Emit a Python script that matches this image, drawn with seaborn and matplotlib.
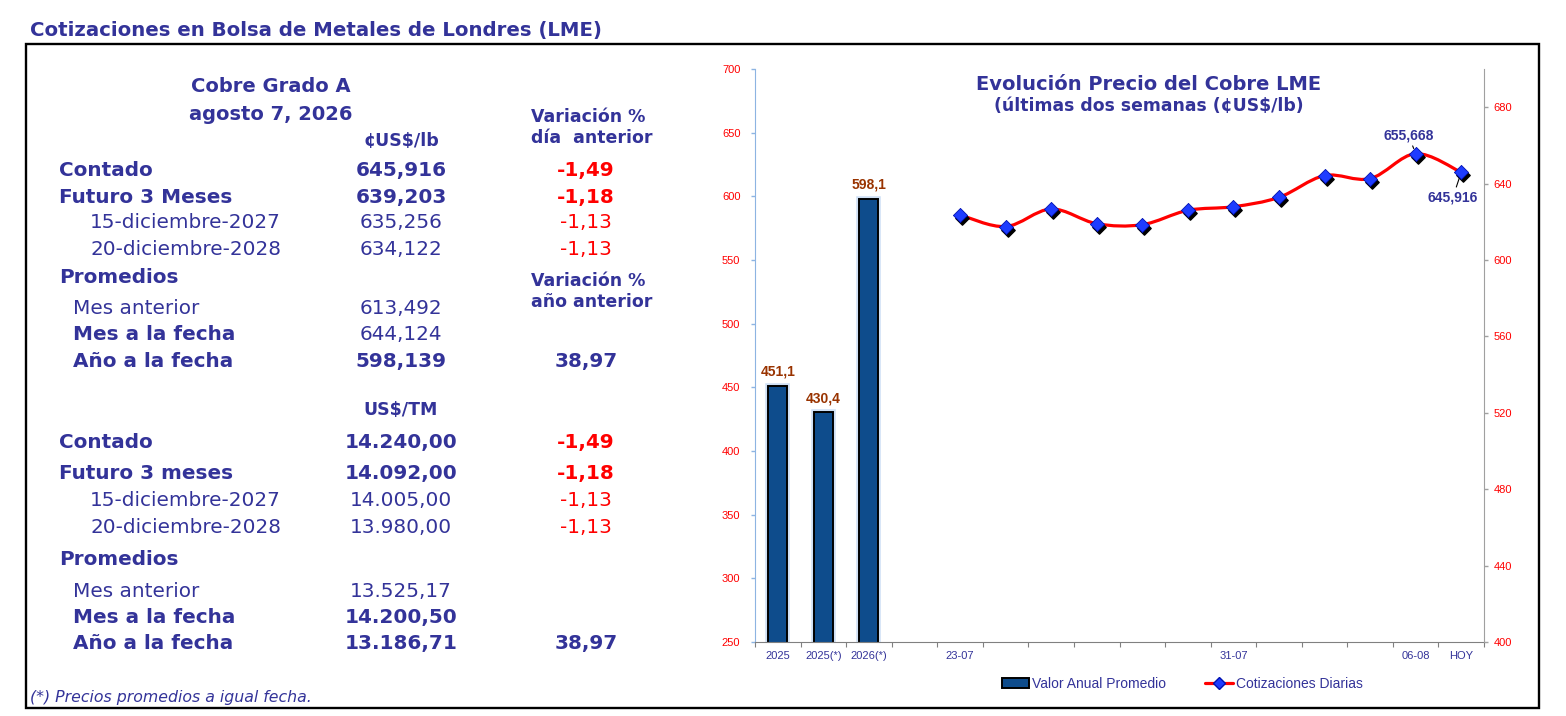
import numpy as np
import pandas as pd
import matplotlib.pyplot as plt
import matplotlib.transforms as mtransforms
import matplotlib.patheffects as pe
from matplotlib.patches import Rectangle, Patch, PathPatch
from matplotlib.path import Path
from matplotlib.lines import Line2D
import seaborn as sns

sns.set_style("white")
plt.rcParams['font.family'] = ['DejaVu Sans']

# ---- chart data ----
years = ["2025", "2025(*)", "2026(*)"]
annual_avg = [451.1, 430.4, 598.1]
days = ["23-07", "24-07", "27-07", "28-07", "29-07", "30-07",
        "31-07", "03-08", "04-08", "05-08", "06-08", "HOY"]
daily_price = [623.6, 617.5, 626.7, 619.0, 618.5, 626.0,
               627.9, 632.8, 644.2, 642.6, 655.668, 645.916]
shown_days = ["23-07", "31-07", "06-08", "HOY"]
point_labels = {"06-08": "655,668", "HOY": "645,916"}
left_ticks = [250, 300, 350, 400, 450, 500, 550, 600, 650, 700]
right_ticks = [400, 440, 480, 520, 560, 600, 640, 680]

# ---- table data ----
lb_labels = ["Contado", "Futuro 3 Meses", "15-diciembre-2027", "20-diciembre-2028"]
lb_values = ["645,916", "639,203", "635,256", "634,122"]
lb_var_dia = ["-1,49", "-1,18", "-1,13", "-1,13"]
tm_labels = ["Contado", "Futuro 3 meses", "15-diciembre-2027", "20-diciembre-2028"]
tm_values = ["14.240,00", "14.092,00", "14.005,00", "13.980,00"]
tm_var_dia = ["-1,49", "-1,18", "-1,13", "-1,13"]
prom_labels = ["Mes anterior", "Mes a la fecha", "Año a la fecha"]
lb_prom = ["613,492", "644,124", "598,139"]
tm_prom = ["13.525,17", "14.200,50", "13.186,71"]
var_anual = "38,97"

NAVY = "#333399"
RED = "#FF0000"
BAR = "#0E4C8C"
CHART_FONT = ['Liberation Sans', 'DejaVu Sans']
ROW = 14.4

W, H = 1566, 716
fig = plt.figure(figsize=(W / 100, H / 100), dpi=100)


def put(x, y, s, **kw):
    kw.setdefault('color', NAVY)
    kw.setdefault('va', 'baseline')
    fig.text(x / W, 1 - y / H, s, **kw)


# header and frame
put(30, 36, "Cotizaciones en Bolsa de Metales de Londres (LME)", fontsize=14.2, fontweight='bold')
fig.add_artist(Rectangle((26 / W, 1 - 708 / H), (1539 - 26) / W, (708 - 44) / H,
                         transform=fig.transFigure, fill=False, lw=1.7, edgecolor='black'))

# left table
put(271, 92, "Cobre Grado A", fontsize=14, fontweight='bold', ha='center')
put(271, 120, "agosto 7, 2026", fontsize=14, fontweight='bold', ha='center')
put(531, 122, "Variación %", fontsize=12.5, fontweight='bold')
put(531, 143, "día  anterior", fontsize=12.5, fontweight='bold')
put(401, 146, "¢US$/lb", fontsize=12.5, fontweight='bold', ha='center')
put(401, 415, "US$/TM", fontsize=12.5, fontweight='bold', ha='center')
put(531, 286, "Variación %", fontsize=12.5, fontweight='bold')
put(531, 307, "año anterior", fontsize=12.5, fontweight='bold')

blocks = [(lb_labels, lb_values, lb_var_dia, [176, 203, 228, 255]),
          (tm_labels, tm_values, tm_var_dia, [448, 479, 506, 533])]
for labels, values, variations, ys in blocks:
    for i, (lab, val, var, y) in enumerate(zip(labels, values, variations, ys)):
        bold = i < 2
        w = 'bold' if bold else 'normal'
        put(59 if bold else 90, y, lab, fontsize=ROW, fontweight=w)
        put(401, y, val, fontsize=ROW, fontweight=w, ha='center')
        put(586, y, var, fontsize=ROW, fontweight=w, ha='center', color=RED)

put(59, 283, "Promedios", fontsize=ROW, fontweight='bold')
put(59, 565, "Promedios", fontsize=ROW, fontweight='bold')
for prom, ys, val_bold in [(lb_prom, [314, 340, 367], [False, False, True]),
                           (tm_prom, [597, 623, 649], [False, True, True])]:
    for i, (lab, val, y) in enumerate(zip(prom_labels, prom, ys)):
        put(73, y, lab, fontsize=ROW, fontweight='bold' if i > 0 else 'normal')
        put(401, y, val, fontsize=ROW, fontweight='bold' if val_bold[i] else 'normal', ha='center')
    put(586, ys[-1], var_anual, fontsize=ROW, fontweight='bold', ha='center')

put(30, 702, "(*) Precios promedios a igual fecha.", fontsize=11.3, style='italic')

# ---- chart ----
categories = years + [" "] + days
df_bars = pd.DataFrame({"cat": years, "valor": annual_avg})
df_line = pd.DataFrame({"pos": [categories.index(d) for d in days], "precio": daily_price})

ax = fig.add_axes([755 / W, 1 - 642 / H, (1484 - 755) / W, (642 - 69) / H])
sns.barplot(data=df_bars, x="cat", y="valor", order=categories, color=BAR, saturation=1,
            edgecolor="black", linewidth=1.4, width=0.42, ax=ax)
for bar in ax.containers[0]:
    bar.set_path_effects([pe.Stroke(linewidth=4, foreground='#cfe0f5'), pe.Normal()])
ax.bar_label(ax.containers[0], labels=[f"{v:.1f}".replace('.', ',') for v in annual_avg],
             padding=5, fontsize=10, fontweight='bold', color='#993300', family=CHART_FONT)

ax2 = ax.twinx()
# smoothed red line through the daily quotes (Excel-style)
pts = df_line[["pos", "precio"]].to_numpy(dtype=float)
n = len(pts)
verts, codes = [tuple(pts[0])], [Path.MOVETO]
for i in range(n - 1):
    p0, p1, p2, p3 = pts[max(i - 1, 0)], pts[i], pts[i + 1], pts[min(i + 2, n - 1)]
    verts += [tuple(p1 + (p2 - p0) / 6), tuple(p2 - (p3 - p1) / 6), tuple(p2)]
    codes += [Path.CURVE4] * 3
ax2.add_patch(PathPatch(Path(verts, codes), fill=False, edgecolor=RED, lw=2.3,
                        capstyle='round', joinstyle='round', zorder=2))

shadow = mtransforms.offset_copy(ax2.transData, fig=fig, x=2, y=-3, units='dots')
ax2.scatter(df_line["pos"], df_line["precio"], marker='D', s=46, color='black',
            transform=shadow, zorder=3)
sns.scatterplot(data=df_line, x="pos", y="precio", marker='D', s=52, color='#1E3CFF',
                edgecolor='#0010B0', linewidth=0.6, zorder=4, ax=ax2)

for day, txt in point_labels.items():
    i = days.index(day)
    off = (-5, 13) if day != "HOY" else (-6, -18)
    ax2.annotate(txt, (df_line["pos"][i], daily_price[i]), xytext=off, textcoords='offset points',
                 ha='center', va='center', fontsize=10, fontweight='bold', color=NAVY,
                 family=CHART_FONT,
                 arrowprops=dict(arrowstyle='-', color='black', lw=0.8, shrinkA=0, shrinkB=4))

ax.set_ylim(250, 700)
ax.set_yticks(left_ticks)
ax2.set_ylim(400, 700)
ax2.set_yticks(right_ticks)
ax.set_xlim(-0.5, len(categories) - 0.5)
ax.set_xticks(range(len(categories)))
ax.set_xticklabels(years + [""] + [d if d in shown_days else "" for d in days])
ax.set_xticks(np.arange(len(categories) + 1) - 0.5, minor=True)
for a in (ax, ax2):
    a.set_xlabel("")
    a.set_ylabel("")

ax.tick_params(axis='y', left=True, length=3, width=1, color='#8DB4E2', labelcolor=RED,
               labelsize=8, pad=7.5)
ax.tick_params(axis='x', which='major', bottom=True, length=0, labelcolor=NAVY, labelsize=8, pad=6.5)
ax.tick_params(axis='x', which='minor', bottom=True, length=3.5, width=0.8, color='#808080')
ax2.tick_params(axis='y', right=True, length=3, width=1, color='#A0A0A0', labelcolor=RED,
                labelsize=8, pad=4)
for lab in ax.get_xticklabels() + ax.get_yticklabels() + ax2.get_yticklabels():
    lab.set_family(CHART_FONT)

ax.spines['top'].set_visible(False)
ax.spines['right'].set_visible(False)
ax.spines['left'].set_color('#8DB4E2')
ax.spines['bottom'].set_color('#808080')
for s in ('top', 'left', 'bottom'):
    ax2.spines[s].set_visible(False)
ax2.spines['right'].set_color('#A0A0A0')

fig.text(1149 / W, 1 - 90 / H, "Evolución Precio del Cobre LME", ha='center', va='baseline',
         fontsize=14, fontweight='bold', color=NAVY)
fig.text(1149 / W, 1 - 111 / H, "(últimas dos semanas (¢US$/lb)", ha='center', va='baseline',
         fontsize=12.4, fontweight='bold', color=NAVY)

handles = [Patch(facecolor=BAR, edgecolor='black', lw=1.4),
           Line2D([], [], color=RED, lw=2.3, marker='D', ms=6, mfc='#1E3CFF', mec='#0010B0')]
fig.legend(handles, ["Valor Anual Promedio", "Cotizaciones Diarias"], loc='center',
           bbox_to_anchor=(1182 / W, 1 - 684 / H), ncol=2, frameon=False,
           prop={'family': CHART_FONT, 'size': 10}, labelcolor=NAVY,
           handlelength=2.0, handleheight=0.7, handletextpad=0.2, columnspacing=2.8)

fig.savefig("out.png", dpi=100)
